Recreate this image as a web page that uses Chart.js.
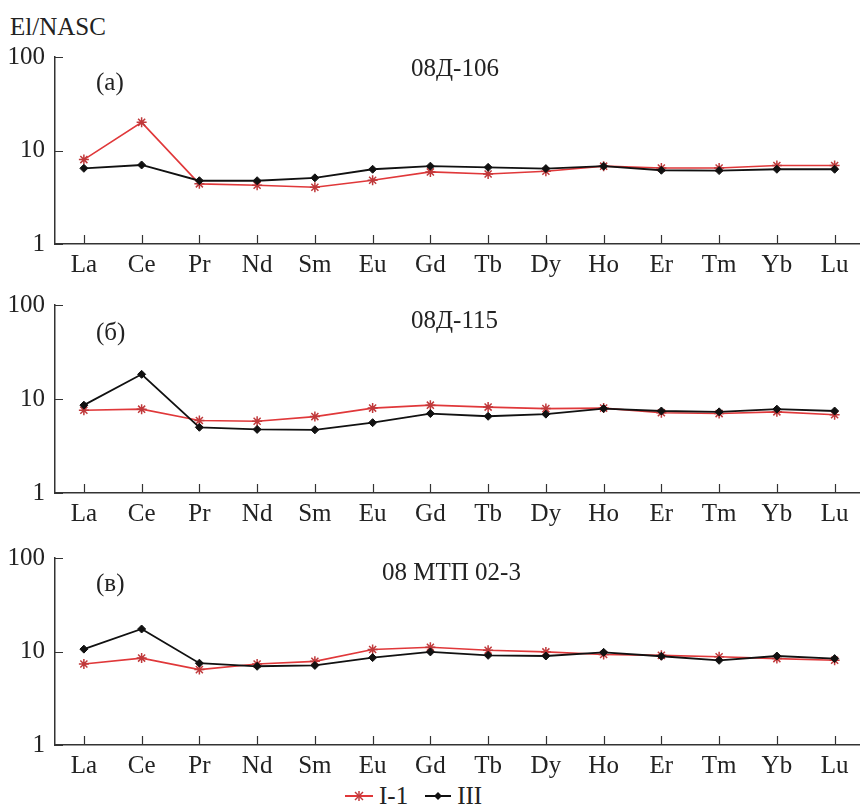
<!DOCTYPE html>
<html>
<head>
<meta charset="utf-8">
<script src="https://cdn.jsdelivr.net/npm/chart.js@4/dist/chart.umd.min.js"></script>
<style>
  html, body { margin: 0; padding: 0; background: #fff; overflow: hidden; }
  body { width: 860px; height: 806px; position: relative; font-family: "Liberation Serif", serif; color: #222; }
  .box { position: absolute; left: 0; width: 870px; }
  .txt { position: absolute; font-size: 25px; white-space: nowrap; line-height: 1; }
  #legend { position: absolute; top: 783px; left: 344px; font-size: 25px; line-height: 1; display: flex; align-items: center; }
  #legend span { margin-left: 5px; }
</style>
</head>
<body>
<div class="txt" style="left:10px; top:14px;">El/NASC</div>

<div class="box" style="top:32px; height:247px;"><canvas id="c1"></canvas></div>
<div class="box" style="top:280px; height:248px;"><canvas id="c2"></canvas></div>
<div class="box" style="top:533px; height:247px;"><canvas id="c3"></canvas></div>

<div class="txt" style="left:96px; top:69px;">(a)</div>
<div class="txt" style="left:411px; top:55px;">08Д-106</div>
<div class="txt" style="left:96px; top:319px;">(б)</div>
<div class="txt" style="left:411px; top:307px;">08Д-115</div>
<div class="txt" style="left:96px; top:570px;">(в)</div>
<div class="txt" style="left:382px; top:559px;">08 МТП 02-3</div>

<div id="legend">
  <svg width="30" height="14"><line x1="1" y1="7" x2="29" y2="7" stroke="#e0383a" stroke-width="2"/>
    <g stroke="#c0393b" stroke-width="1.5"><line x1="11" y1="3" x2="19" y2="11"/><line x1="19" y1="3" x2="11" y2="11"/><line x1="15" y1="2" x2="15" y2="12"/></g></svg>
  <span>I-1</span>
  <svg width="28" height="14" style="margin-left:16px"><line x1="1" y1="7" x2="27" y2="7" stroke="#111" stroke-width="2"/>
    <polygon points="14,3 18,7 14,11 10,7" fill="#111"/></svg>
  <span>III</span>
</div>

<script>
const elements = ['La', 'Ce', 'Pr', 'Nd', 'Sm', 'Eu', 'Gd', 'Tb', 'Dy', 'Ho', 'Er', 'Tm', 'Yb', 'Lu'];
const yTicks = [1, 10, 100];

// (a) 08Д-106
const a_I1  = [8.0, 20.0, 4.4, 4.25, 4.05, 4.8, 5.9, 5.6, 6.0, 6.8, 6.5, 6.5, 6.9, 6.9];
const a_III = [6.45, 7.0, 4.75, 4.75, 5.1, 6.3, 6.8, 6.6, 6.4, 6.8, 6.15, 6.1, 6.3, 6.3];
// (б) 08Д-115
const b_I1  = [7.6, 7.8, 5.9, 5.8, 6.5, 8.0, 8.6, 8.2, 7.9, 8.0, 7.15, 7.0, 7.3, 6.8];
const b_III = [8.6, 18.3, 5.0, 4.75, 4.7, 5.6, 7.0, 6.55, 6.9, 7.9, 7.45, 7.3, 7.8, 7.45];
// (в) 08 МТП 02-3
const c_I1  = [7.35, 8.5, 6.4, 7.35, 7.85, 10.5, 11.1, 10.3, 9.9, 9.3, 9.1, 8.8, 8.4, 8.05];
const c_III = [10.6, 17.4, 7.5, 6.95, 7.1, 8.6, 9.9, 9.1, 8.95, 9.8, 8.9, 8.05, 8.95, 8.4];

const axisColor = '#333';

const innerTicks = {
  id: 'innerTicks',
  afterDraw(chart) {
    const { ctx, chartArea } = chart;
    const x = chart.scales.x, y = chart.scales.y;
    ctx.save();
    ctx.strokeStyle = axisColor;
    ctx.lineWidth = 1.2;
    ctx.beginPath();
    x.ticks.forEach((t, i) => {
      const px = Math.round(x.getPixelForTick(i)) + 0.5;
      ctx.moveTo(px, chartArea.bottom);
      ctx.lineTo(px, chartArea.bottom - 9);
    });
    y.ticks.forEach((t, i) => {
      const py = Math.round(y.getPixelForTick(i)) + 0.5;
      ctx.moveTo(chartArea.left, py);
      ctx.lineTo(chartArea.left + 8, py);
    });
    ctx.stroke();
    ctx.restore();
  }
};

function makeChart(id, i1, iii) {
  return new Chart(document.getElementById(id), {
    type: 'line',
    data: {
      labels: elements,
      datasets: [
        {
          label: 'III',
          data: iii,
          borderColor: '#111',
          backgroundColor: '#111',
          borderWidth: 1.8,
          pointStyle: 'rectRot',
          pointRadius: 4,
          pointBorderWidth: 1,
          tension: 0
        },
        {
          label: 'I-1',
          data: i1,
          borderColor: '#e0383a',
          backgroundColor: '#c0393b',
          pointBorderColor: '#c0393b',
          borderWidth: 1.6,
          pointStyle: 'star',
          pointRadius: 5,
          pointBorderWidth: 1.5,
          tension: 0
        }
      ]
    },
    options: {
      responsive: true,
      maintainAspectRatio: false,
      animation: false,
      layout: { padding: { top: 14, right: 5, left: 0, bottom: 0 } },
      plugins: { legend: { display: false }, tooltip: { enabled: false } },
      scales: {
        x: {
          type: 'category',
          offset: true,
          grid: { display: false, drawTicks: false },
          border: { display: true, color: axisColor, width: 1.5 },
          ticks: {
            color: '#222',
            padding: 6,
            maxRotation: 0,
            autoSkip: false,
            font: { family: 'Liberation Serif', size: 25 }
          },
          afterFit(scale) { scale.height = 35; }
        },
        y: {
          type: 'logarithmic',
          min: 1,
          max: 100,
          grid: { display: false, drawTicks: false },
          border: { display: true, color: axisColor, width: 1.5 },
          ticks: {
            color: '#222',
            padding: 10,
            font: { family: 'Liberation Serif', size: 25 },
            callback: (v) => String(v)
          },
          afterBuildTicks(scale) {
            scale.ticks = yTicks.map(v => ({ value: v }));
          },
          afterFit(scale) { scale.width = 55; }
        }
      }
    },
    plugins: [innerTicks]
  });
}

makeChart('c1', a_I1, a_III);
makeChart('c2', b_I1, b_III);
makeChart('c3', c_I1, c_III);
</script>
</body>
</html>
